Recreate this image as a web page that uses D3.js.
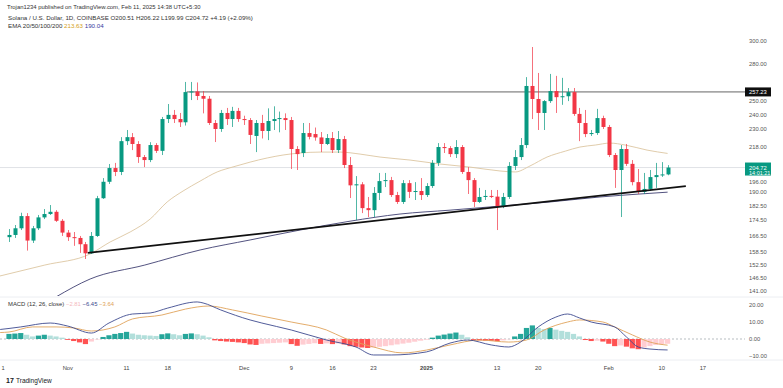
<!DOCTYPE html>
<html><head><meta charset="utf-8">
<script src="https://cdn.jsdelivr.net/npm/d3@7"></script>
<style>body{margin:0;background:#fff}svg{display:block}text{font-family:"Liberation Sans",Arial,sans-serif}</style>
</head><body><svg id="c" width="783" height="388"></svg>
<script>
// ---------- DATA ----------
const startDate = new Date(2024, 9, 22); // first candle (Oct 22, 2024), one candle per day
const ohlc = [
[165.9,170.0,163.5,167.0],[167.0,172.1,165.5,170.4],[170.4,178.6,169.5,176.8],[176.8,178.4,159.3,164.2],
[164.2,171.6,163.0,170.4],[170.4,177.4,169.5,176.1],[176.1,180.6,175.2,177.9],[177.9,182.8,177.4,179.1],
[179.1,180.0,173.7,174.3],[174.3,175.2,166.5,168.2],[168.2,169.5,164.0,165.9],[165.9,168.5,161.6,165.5],
[165.5,166.5,158.2,162.4],[162.4,163.5,155.3,158.0],[158.0,168.5,157.7,166.5],[166.5,187.9,166.0,186.6],
[186.6,198.3,186.2,196.1],[196.1,206.9,194.8,204.4],[204.4,207.6,199.5,202.0],[202.0,224.4,200.1,221.7],
[221.7,229.3,219.1,224.4],[224.4,227.2,215.8,219.8],[219.8,221.7,207.6,211.3],[211.3,212.6,205.0,209.4],
[209.4,221.0,208.1,219.1],[219.1,220.4,213.9,215.3],[215.3,238.5,212.6,237.0],[237.0,248.0,234.2,240.0],
[240.0,243.6,234.2,237.0],[237.0,241.4,231.4,234.7],[234.7,265.1,232.4,257.1],[257.1,265.1,251.0,257.6],
[257.6,264.7,251.0,254.1],[254.1,257.9,241.1,252.0],[252.0,254.1,232.8,234.2],[234.2,236.3,221.1,230.0],
[230.0,243.6,228.0,241.4],[241.4,245.1,232.8,237.0],[237.0,245.9,231.4,242.9],[242.9,245.1,235.0,237.0],
[237.0,239.4,232.8,236.3],[236.3,237.7,219.8,225.9],[225.2,236.3,214.5,234.2],[234.2,240.0,223.5,228.6],
[228.6,244.8,222.4,235.6],[235.6,246.3,229.3,237.0],[237.0,242.4,227.7,237.7],[237.7,241.1,229.3,236.3],
[236.3,238.5,203.8,216.5],[216.5,218.4,203.2,213.2],[213.9,234.2,211.3,227.2],[227.2,234.2,222.9,224.6],
[226.5,231.0,222.0,224.2],[224.2,227.9,214.5,219.8],[219.8,226.5,219.1,223.8],[223.8,227.9,213.9,215.8],
[215.8,228.6,213.9,223.1],[223.1,225.2,204.4,206.3],[206.3,211.3,186.7,194.0],[194.0,199.5,174.7,194.6],
[194.6,195.9,178.4,181.1],[181.1,187.3,176.3,180.0],[180.0,193.0,176.3,189.6],[189.6,201.4,185.6,196.5],
[196.5,201.4,193.0,197.1],[197.1,199.0,187.3,188.4],[188.4,190.2,183.4,184.5],[184.5,197.1,183.4,195.3],
[195.3,197.1,186.7,190.2],[190.2,195.9,185.6,190.7],[190.7,198.3,185.6,188.4],[188.4,195.3,187.3,193.6],
[193.6,209.4,192.5,207.6],[207.6,220.4,205.7,217.8],[217.8,220.4,213.9,217.1],[217.1,218.4,211.3,213.2],
[213.2,222.4,210.7,217.8],[217.8,219.1,200.8,202.0],[202.0,205.0,189.0,197.1],[197.1,198.3,181.7,184.5],
[184.5,192.5,183.9,187.3],[187.3,191.3,185.6,187.9],[187.9,191.3,186.7,187.5],[187.5,191.3,169.5,182.2],
[182.2,189.6,181.1,187.3],[187.3,208.1,186.2,205.7],[205.7,215.8,203.2,211.3],[211.3,223.8,209.4,219.1],
[219.1,269.0,217.1,261.9],[261.9,294.6,237.0,251.8],[251.8,272.4,229.3,241.4],[241.4,251.0,229.3,250.2],
[250.2,271.6,248.8,257.9],[257.9,270.0,241.4,253.2],[253.2,268.4,247.4,253.9],[253.9,260.3,250.2,257.1],
[257.1,260.3,239.3,240.7],[240.7,245.1,221.7,234.2],[234.2,243.6,224.4,226.5],[226.5,229.3,225.2,227.2],
[227.2,244.4,225.9,237.7],[237.7,239.4,230.0,231.4],[231.4,232.8,211.3,212.6],[212.6,213.9,192.5,203.2],
[203.2,219.1,176.3,216.5],[216.5,219.8,205.7,207.0],[207.0,209.4,194.0,195.9],[195.9,203.8,189.0,190.2],
[190.2,201.4,189.0,191.9],[191.9,203.2,190.7,198.9],[198.9,207.6,192.5,200.1],[200.1,208.1,199.0,200.5],
[200.51,206.22,199.99,204.72]
];
// EMA lines: [day offset from startDate, value]
const emaTan = [[-1.6,147.5],[6.1,152.5],[13.8,157.7],[17.2,163.5],[20.6,168.5],[24.0,175.2],[26.9,184.5],[29.6,190.7],
[32.5,196.5],[35.4,202.0],[38.1,205.1],[41.0,208.1],[43.9,210.7],[46.6,212.6],[49.5,213.9],[52.9,214.5],[56.3,214.5],
[59.7,213.2],[63.1,211.3],[68.2,209.4],[73.3,206.9],[78.4,205.0],[83.5,202.6],[86.1,202.0],[88.6,205.7],[91.5,211.3],
[94.6,215.1],[97.1,217.8],[99.7,219.1],[102.2,220.4],[104.8,219.1],[108.5,215.8],[112,213.63]];
const emaBlue = [[8,138.5],[13.8,146.2],[23.1,152.5],[32.5,159.6],[41,164.5],[49.5,169.5],[58,174.1],[66.5,177.9],
[75,180.0],[83.5,182.2],[92,184.5],[100.5,187.3],[107.3,189.0],[112,190.04]];
// trend line and horizontal level
const trendLine = [[13.4,158.2],[115.1,193.6]];
const hLevel = {from:30.2, value:257.23};
const lastPrice = 204.72;
// MACD
const macdLine = [[-1.5,5.6],[0,6.2],[2,7.1],[7,9.4],[10,7.6],[14,3.5],[17,9.4],[21,14.7],[24,15.3],[27,18.2],[32,21.8],
[33,21.2],[36,17.1],[41,11.2],[43,9.4],[48,5.3],[54,-0.6],[59,-4.7],[62,-9.4],[65,-9.4],[71,-7.6],[75,-2.4],[78,-0.6],
[82,-3.5],[85,-4.7],[87,-1.8],[90,7.1],[93,12.9],[95,14.7],[97,12.4],[99,10.0],[103,7.1],[105,1.2],[107,-4.7],[109,-5.9],[112,-6.45]];
const signalLine = [[-1.5,3.8],[0,4.1],[4,7.1],[8,7.1],[11,6.5],[14,4.7],[18,7.1],[21,11.8],[26,14.1],[30,17.6],[34,19.4],
[38,17.1],[43,13.5],[48,10.0],[54,5.3],[57,0.6],[62,-4.7],[67,-8.2],[71,-6.5],[75,-3.5],[80,-0.6],[85,-1.8],[88,-0.6],
[91,5.3],[95,10.0],[97,11.2],[101,10.0],[103,7.1],[106,2.4],[109,-1.8],[112,-3.64]];
const hist = [3.0,3.2,3.5,2.5,1.5,2.0,2.5,2.0,1.5,0.8,-0.5,-1.2,-2.0,-3.0,-1.5,-0.3,1.2,2.2,3.0,3.5,4.2,3.2,2.5,2.2,2.0,1.8,
2.8,3.3,2.8,2.2,3.0,3.3,2.8,2.0,1.0,-0.8,-1.2,-1.5,-1.7,-2.0,-2.4,-3.2,-3.5,-2.8,-2.6,-2.4,-2.2,-2.0,-3.0,-4.0,-3.3,-2.9,
-2.5,-2.9,-2.6,-3.0,-2.6,-3.2,-4.2,-4.6,-5.0,-5.3,-5.0,-4.6,-4.2,-3.7,-3.2,-2.7,-2.2,-1.6,-1.0,-0.4,0.8,2.0,2.6,3.2,3.8,
2.5,1.0,-0.5,-0.8,-1.0,-1.1,-1.3,-0.8,-0.2,1.5,3.0,6.5,8.0,6.5,5.8,6.5,5.5,4.8,4.2,3.0,1.5,-0.6,-1.2,-1.0,-1.5,-2.8,-4.2,
-3.8,-4.5,-5.5,-6.0,-5.0,-4.2,-3.5,-3.2,-2.81];
const priceTicks = [300,280,250,240,230,218,196,190,182.5,174.5,166.5,158.5,152.5,146.5,141];
const macdTicks = [20,10,0,-10];
const xTicks = [["2024-10-21","1"],["2024-11-01","Nov"],["2024-11-11","11"],["2024-11-18","18"],["2024-12-01","Dec"],
["2024-12-09","9"],["2024-12-16","16"],["2024-12-23","23"],["2025-01-01","2025"],["2025-01-13","13"],["2025-01-20","20"],
["2025-02-01","Feb"],["2025-02-10","10"],["2025-02-17","17"]];
const headerLines = ["Trojan1234 published on TradingView.com, Feb 11, 2025 14:38 UTC+5:30",
"Solana / U.S. Dollar, 1D, COINBASE  O200.51 H206.22 L199.99 C204.72 +4.19 (+2.09%)"];

// ---------- CHART ----------
const svg = d3.select('#c');
const GREEN="#089981", RED="#f23645";
const dayDate = d => new Date(startDate.getTime() + d*864e5);
const parse = s => { const [Y,M,D]=s.split('-').map(Number); return new Date(Y,M-1,D); };
const x = d3.scaleTime().domain([startDate, dayDate(112)]).range([9, 667.6]);
const y = d3.scaleLog().domain([141,300]).range([291,41]);
const ym = d3.scaleLinear().domain([-10,20]).range([356,305]);
const paneR = 745;

const defs = svg.append('defs');
defs.append('clipPath').attr('id','pp').append('rect').attr('x',0).attr('y',33).attr('width',paneR).attr('height',263);
defs.append('clipPath').attr('id','mp').append('rect').attr('x',0).attr('y',298).attr('width',paneR).attr('height',61);

// pane separators
svg.append('line').attr('x1',0).attr('x2',783).attr('y1',297).attr('y2',297).attr('stroke','#eceef2');
svg.append('line').attr('x1',0).attr('x2',783).attr('y1',360).attr('y2',360).attr('stroke','#eceef2');

const pp = svg.append('g').attr('clip-path','url(#pp)');
// last price line
pp.append('line').attr('x1',0).attr('x2',paneR).attr('y1',y(lastPrice)).attr('y2',y(lastPrice))
  .attr('stroke','#d8dbe0').attr('stroke-width',0.8);
// horizontal level
pp.append('line').attr('x1',x(dayDate(hLevel.from))).attr('x2',paneR).attr('y1',y(hLevel.value)).attr('y2',y(hLevel.value))
  .attr('stroke','#555').attr('stroke-width',0.9);
// EMA lines
const emaLine = d3.line().x(d=>x(dayDate(d[0]))).y(d=>y(d[1])).curve(d3.curveMonotoneX);
pp.append('path').attr('d',emaLine(emaTan)).attr('fill','none').attr('stroke','#dcc6a2').attr('stroke-width',0.9);
pp.append('path').attr('d',emaLine(emaBlue)).attr('fill','none').attr('stroke','#3f3f72').attr('stroke-width',0.9);
// candles
const cg = pp.append('g');
ohlc.forEach((c,i)=>{
  const [o,h,l,cl]=c; const col = cl>=o?GREEN:RED; const cx = Math.round(x(dayDate(i)))+0.5;
  cg.append('line').attr('x1',cx).attr('x2',cx).attr('y1',y(h)).attr('y2',y(l)).attr('stroke',col).attr('stroke-width',1).attr('opacity',0.7);
  const top=y(Math.max(o,cl)), bot=y(Math.min(o,cl));
  cg.append('rect').attr('x',cx-2).attr('width',4).attr('y',top).attr('height',Math.max(1,bot-top)).attr('fill',col);
});
// trend line
pp.append('line').attr('x1',x(dayDate(trendLine[0][0]))).attr('y1',y(trendLine[0][1]))
  .attr('x2',x(dayDate(trendLine[1][0]))).attr('y2',y(trendLine[1][1])).attr('stroke','#111').attr('stroke-width',1.8);

// price axis labels
const axG = svg.append('g').attr('font-size',5.8).attr('fill','#555');
priceTicks.forEach(t=>{
  axG.append('text').attr('x',749).attr('y',y(t)).attr('dy','0.35em').text(t.toFixed(2));
});
// level label (black)
svg.append('rect').attr('x',745).attr('y',y(hLevel.value)-4.5).attr('width',26).attr('height',9).attr('fill','#0f0f0f');
svg.append('text').attr('x',749).attr('y',y(hLevel.value)).attr('dy','0.35em').attr('font-size',5.8).attr('fill','#fff').text(hLevel.value.toFixed(2));
// last price label (green)
svg.append('rect').attr('x',745).attr('y',y(lastPrice)-5).attr('width',26).attr('height',13).attr('fill',GREEN);
svg.append('text').attr('x',749).attr('y',y(lastPrice)).attr('dy','0.35em').attr('font-size',5.8).attr('fill','#fff').text(lastPrice.toFixed(2));
svg.append('text').attr('x',749).attr('y',y(lastPrice)+6).attr('dy','0.35em').attr('font-size',5.5).attr('fill','#fff').text('14:01:21');

// MACD pane
const mp = svg.append('g').attr('clip-path','url(#mp)');
mp.append('line').attr('x1',0).attr('x2',paneR).attr('y1',ym(0)).attr('y2',ym(0)).attr('stroke','#9aa0a8').attr('stroke-width',0.7).attr('stroke-dasharray','2,2');
hist.forEach((v,i)=>{
  const prev = i>0?hist[i-1]:v;
  let col;
  if(v>=0) col = v>=prev? "#26a69a":"#b2dfdb"; else col = v<=prev? "#ff5252":"#ffcdd2";
  const cx = x(dayDate(i));
  mp.append('rect').attr('x',cx-2.6).attr('width',5.2).attr('y',Math.min(ym(v),ym(0))).attr('height',Math.abs(ym(v)-ym(0))).attr('fill',col);
});
const ml = d3.line().x(d=>x(dayDate(d[0]))).y(d=>ym(d[1])).curve(d3.curveMonotoneX);
mp.append('path').attr('d',ml(signalLine)).attr('fill','none').attr('stroke','#e0a35a').attr('stroke-width',0.9);
mp.append('path').attr('d',ml(macdLine)).attr('fill','none').attr('stroke','#3d4a8f').attr('stroke-width',0.9);
macdTicks.forEach(t=>{
  axG.append('text').attr('x',749).attr('y',ym(t)).attr('dy','0.35em').text(t===-10?"\u221210.00":t.toFixed(2));
});

// x axis labels
const xg = svg.append('g').attr('font-size',5.8).attr('fill','#444').attr('text-anchor','middle');
xTicks.forEach(([d,l])=>{
  xg.append('text').attr('x',x(parse(d))).attr('y',370).attr('font-weight',l==='2025'?'bold':'normal').text(l);
});

// header
const hg = svg.append('g').attr('fill','#333');
hg.append('text').attr('x',7).attr('y',8.5).attr('font-size',5.9).text(headerLines[0]);
hg.append('text').attr('x',8).attr('y',20).attr('font-size',6.2).text(headerLines[1]);
const emaT = hg.append('text').attr('x',8).attr('y',28).attr('font-size',6.2);
emaT.append('tspan').text('EMA 20/50/100/200 ');
emaT.append('tspan').attr('fill','#d4a017').text(' 213.63 ');
emaT.append('tspan').attr('fill','#3a3aa0').text(' 190.04');
// MACD legend
const mt = svg.append('text').attr('x',8).attr('y',306).attr('font-size',5.9).attr('fill','#333');
mt.append('tspan').text('MACD (12, 26, close) ');
mt.append('tspan').attr('fill','#f4b8be').text(' \u22122.81 ');
mt.append('tspan').attr('fill','#3d4a8f').text(' \u22126.45 ');
mt.append('tspan').attr('fill','#e0a35a').text(' \u22123.64');

// TradingView logo
svg.append('text').attr('x',6).attr('y',383).attr('font-size',7).attr('font-weight','bold').attr('fill','#131722').text('17');
svg.append('text').attr('x',16).attr('y',383).attr('font-size',6.5).attr('fill','#131722').text('TradingView');
</script></body></html>
